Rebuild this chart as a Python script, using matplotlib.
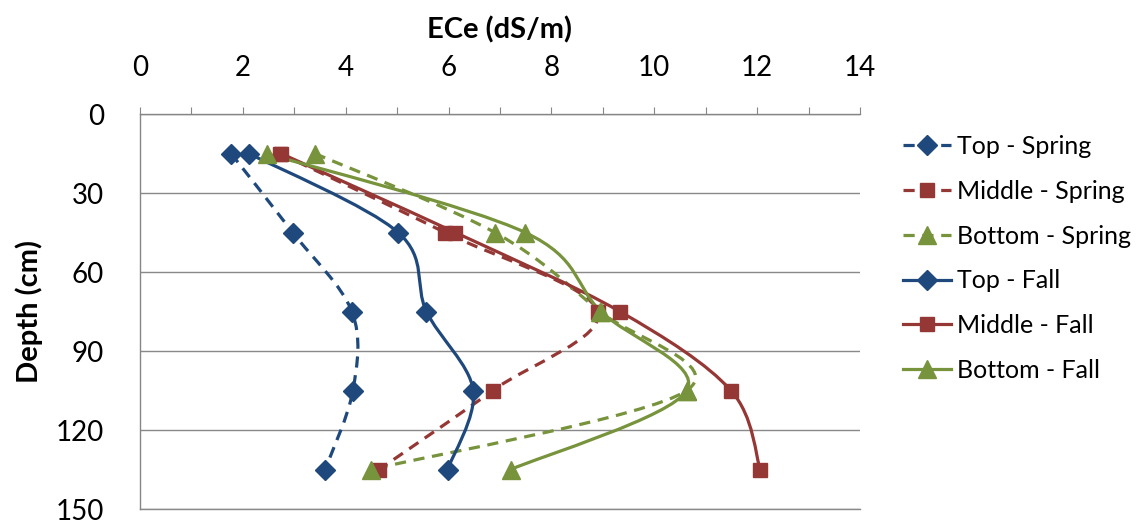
import matplotlib
matplotlib.use("Agg")
import matplotlib.pyplot as plt
from matplotlib.path import Path
from matplotlib.patches import PathPatch
from matplotlib.lines import Line2D
import numpy as np

plt.rcParams['font.family'] = ['Lato', 'DejaVu Sans']

depth = [15, 45, 75, 105, 135]
top_spring = [1.77, 2.97, 4.12, 4.14, 3.60]
middle_spring = [2.72, 5.93, 8.90, 6.86, 4.65]
bottom_spring = [3.40, 6.90, 8.94, 10.63, 4.50]
top_fall = [2.12, 5.02, 5.57, 6.48, 5.98]
middle_fall = [2.74, 6.13, 9.33, 11.49, 12.06]
bottom_fall = [2.46, 7.49, 8.96, 10.63, 7.21]

series_names = ["Top - Spring", "Middle - Spring", "Bottom - Spring",
                "Top - Fall", "Middle - Fall", "Bottom - Fall"]
series_values = [top_spring, middle_spring, bottom_spring,
                 top_fall, middle_fall, bottom_fall]

blue = "#1F497D"
red = "#953735"
green = "#77933C"
colors = [blue, red, green, blue, red, green]
markers = ["D", "s", "^", "D", "s", "^"]
msizes = [10.5, 10.5, 12.5, 10.5, 10.5, 12.5]
dashed = [True, True, True, False, False, False]


def smooth_path(xs, ys):
    pts = np.column_stack([xs, ys]).astype(float)
    n = len(pts)
    verts = [pts[0]]
    codes = [Path.MOVETO]
    for i in range(n - 1):
        p0 = pts[i - 1] if i > 0 else pts[i]
        p1 = pts[i]
        p2 = pts[i + 1]
        p3 = pts[i + 2] if i + 2 < n else pts[i + 1]
        c1 = p1 + (p2 - p0) / 6.0
        c2 = p2 - (p3 - p1) / 6.0
        verts += [c1, c2, p2]
        codes += [Path.CURVE4] * 3
    return Path(verts, codes)


fig = plt.figure(figsize=(11.41, 5.22), dpi=100)
ax = fig.add_axes([140 / 1141, 1 - 509 / 522, 720 / 1141, 395 / 522])

lw = 2.3
handles = []
for name, vals, c, m, ms, d in zip(series_names, series_values, colors, markers, msizes, dashed):
    ls = (0, (3.5, 2.4)) if d else '-'
    patch = PathPatch(smooth_path(vals, depth), fill=False, edgecolor=c,
                      linewidth=lw, linestyle=ls, zorder=3, capstyle='butt')
    ax.add_patch(patch)
    ax.plot(vals, depth, linestyle='none', marker=m, markersize=ms,
            color=c, markeredgecolor=c, zorder=4)
    handles.append(Line2D([], [], color=c, linewidth=lw, linestyle=ls,
                          marker=m, markersize=ms, markeredgecolor=c))

ax.set_xlim(0, 14)
ax.set_ylim(150, 0)
ax.xaxis.tick_top()
ax.xaxis.set_label_position('top')
ax.set_xticks(range(0, 15, 2))
ax.set_xticks(range(0, 15, 1), minor=True)
ax.set_yticks(range(0, 151, 30))

ax.tick_params(axis='x', which='both', direction='out', length=5, width=0.8,
               color='#868686', labelsize=20, pad=19)
ax.tick_params(axis='y', which='both', length=0, labelsize=20, pad=26)
for lab in ax.get_yticklabels():
    lab.set_horizontalalignment('right')

ax.grid(axis='y', color='#898989', linewidth=1.0, zorder=0)
ax.set_axisbelow(True)
for s in ['right', 'bottom']:
    ax.spines[s].set_visible(False)
for s in ['left', 'top']:
    ax.spines[s].set_color('#868686')
    ax.spines[s].set_linewidth(1.0)
ax.axhline(150, color='#898989', linewidth=1.0, zorder=0, clip_on=False)

ax.set_xlabel("ECe (dS/m)", fontsize=21, fontweight='bold', labelpad=12)
ax.set_ylabel("Depth (cm)", fontsize=21, fontweight='bold', labelpad=9)

fig.legend(handles, series_names, loc='upper left',
           bbox_to_anchor=(903 / 1141, 1 - 135 / 522), frameon=False,
           fontsize=18, handlelength=1.9, handletextpad=0.25,
           labelspacing=0.87, borderpad=0, borderaxespad=0)

fig.savefig("out.png", dpi=100)
